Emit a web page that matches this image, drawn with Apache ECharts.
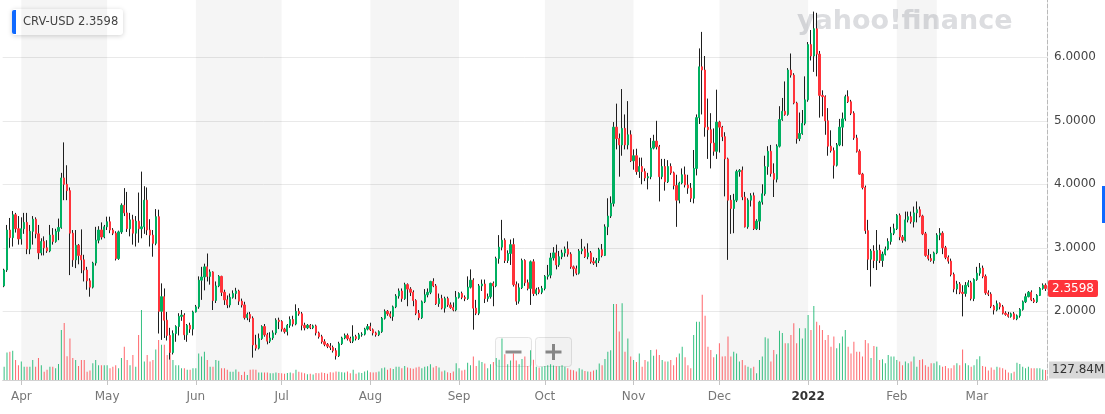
<!DOCTYPE html>
<html><head><meta charset="utf-8">
<script src="https://cdn.jsdelivr.net/npm/echarts/dist/echarts.min.js"></script>
<style>html,body{margin:0;padding:0;background:#fff}#c{width:1105px;height:414px}</style>
</head><body><div id="c"></div>
<script>
// ---- data (daily candles, 2021-03-26 .. 2022-03-25) ----
const START_DATE = [2021, 2, 26];
const openP = [
2.40,2.65,3.28,3.16,3.52,3.30,3.14,3.30,3.40,2.98,
3.26,3.45,3.22,2.92,3.10,3.00,2.95,3.20,3.10,3.26,
3.32,4.10,4.00,3.90,3.23,2.81,3.04,2.88,2.81,2.65,
2.48,2.38,2.76,3.12,3.28,3.17,3.33,3.41,3.28,3.23,
2.83,3.25,3.67,3.55,3.30,3.44,3.23,3.42,3.30,3.33,
3.75,3.28,3.20,3.07,3.49,2.00,2.23,1.86,1.62,1.35,
1.65,1.76,1.92,1.94,1.63,1.78,1.72,1.99,2.07,2.49,
2.54,2.70,2.55,2.62,2.17,2.40,2.55,2.30,2.18,2.10,
2.22,2.28,2.32,2.16,2.10,1.90,1.95,1.89,1.47,1.42,
1.57,1.76,1.63,1.53,1.58,1.66,1.86,1.84,1.72,1.68,
1.78,1.87,1.80,2.00,1.96,1.78,1.74,1.78,1.74,1.77,
1.66,1.60,1.52,1.48,1.45,1.43,1.38,1.30,1.49,1.58,
1.62,1.57,1.53,1.60,1.57,1.63,1.64,1.72,1.76,1.71,
1.66,1.63,1.68,1.89,2.00,1.96,1.92,2.07,2.24,2.32,
2.20,2.42,2.35,2.30,2.17,1.97,1.90,2.15,2.26,2.30,
2.47,2.40,2.12,2.20,2.05,2.20,2.10,2.06,2.02,2.22,
2.28,2.22,2.20,2.38,2.49,2.05,1.97,2.40,2.43,2.20,
2.23,2.44,2.40,2.83,3.01,3.12,2.80,2.91,3.05,2.42,
2.16,2.37,2.80,2.45,2.36,2.78,2.28,2.34,2.30,2.36,
2.55,2.57,2.84,2.92,2.73,2.86,2.92,2.98,2.90,2.70,
2.67,2.60,2.95,2.98,2.86,2.92,2.78,2.76,2.80,2.97,
2.88,3.33,3.50,3.70,4.90,4.72,4.62,4.88,4.62,4.78,
4.37,4.45,4.20,4.28,4.20,4.10,4.12,4.57,4.68,4.59,
4.12,4.28,4.04,4.28,4.18,3.98,3.75,4.02,4.15,3.99,
3.94,3.78,4.25,5.05,5.85,5.80,4.90,4.86,4.65,4.52,
4.98,4.90,4.75,4.40,3.75,3.62,3.75,4.20,4.22,3.80,
3.33,3.75,3.82,3.30,3.42,3.72,3.85,4.28,4.52,4.17,
4.08,4.60,5.02,5.15,5.10,5.80,5.72,5.28,4.72,4.80,
4.96,5.33,6.20,6.02,6.45,6.05,5.40,5.38,5.00,4.60,
4.53,4.30,4.62,4.90,5.03,5.38,5.30,5.12,4.73,4.52,
4.16,3.95,3.27,2.82,2.95,2.80,2.96,2.80,2.90,2.98,
3.10,3.23,3.30,3.51,3.17,3.12,3.44,3.49,3.41,3.55,
3.60,3.50,3.22,2.88,2.83,2.80,2.92,3.20,3.23,3.00,
2.85,2.79,2.58,2.35,2.43,2.30,2.28,2.41,2.45,2.20,
2.50,2.60,2.68,2.55,2.29,2.27,2.08,2.02,2.12,2.07,
1.97,1.95,1.92,1.96,1.88,1.93,2.03,2.15,2.23,2.30,
2.18,2.15,2.25,2.36,2.41];
const closeP = [
2.65,3.28,3.16,3.52,3.30,3.14,3.30,3.40,2.98,3.26,
3.45,3.22,2.92,3.10,3.00,2.95,3.20,3.10,3.26,3.32,
4.10,4.00,3.90,3.23,2.81,3.04,2.88,2.81,2.65,2.48,
2.38,2.76,3.12,3.28,3.17,3.33,3.41,3.28,3.23,2.83,
3.25,3.67,3.55,3.30,3.44,3.23,3.42,3.30,3.33,3.75,
3.28,3.20,3.07,3.49,2.00,2.23,1.86,1.62,1.35,1.65,
1.76,1.92,1.94,1.63,1.78,1.72,1.99,2.07,2.49,2.54,
2.70,2.55,2.62,2.17,2.40,2.55,2.30,2.18,2.10,2.22,
2.28,2.32,2.16,2.10,1.90,1.95,1.89,1.47,1.42,1.57,
1.76,1.63,1.53,1.58,1.66,1.86,1.84,1.72,1.68,1.78,
1.87,1.80,2.00,1.96,1.78,1.74,1.78,1.74,1.77,1.66,
1.60,1.52,1.48,1.45,1.43,1.38,1.30,1.49,1.58,1.62,
1.57,1.53,1.60,1.57,1.63,1.64,1.72,1.76,1.71,1.66,
1.63,1.68,1.89,2.00,1.96,1.92,2.07,2.24,2.32,2.20,
2.42,2.35,2.30,2.17,1.97,1.90,2.15,2.26,2.30,2.47,
2.40,2.12,2.20,2.05,2.20,2.10,2.06,2.02,2.22,2.28,
2.22,2.20,2.38,2.49,2.05,1.97,2.40,2.43,2.20,2.23,
2.44,2.40,2.83,3.01,3.12,2.80,2.91,3.05,2.42,2.16,
2.37,2.80,2.45,2.36,2.78,2.28,2.34,2.30,2.36,2.55,
2.57,2.84,2.92,2.73,2.86,2.92,2.98,2.90,2.70,2.67,
2.60,2.95,2.98,2.86,2.92,2.78,2.76,2.80,2.97,2.88,
3.33,3.50,3.70,4.90,4.72,4.62,4.88,4.62,4.78,4.37,
4.45,4.20,4.28,4.20,4.10,4.12,4.57,4.68,4.59,4.12,
4.28,4.04,4.28,4.18,3.98,3.75,4.02,4.15,3.99,3.94,
3.78,4.25,5.05,5.85,5.80,4.90,4.86,4.65,4.52,4.98,
4.90,4.75,4.40,3.75,3.62,3.75,4.20,4.22,3.80,3.33,
3.75,3.82,3.30,3.42,3.72,3.85,4.28,4.52,4.17,4.08,
4.60,5.02,5.15,5.10,5.80,5.72,5.28,4.72,4.80,4.96,
5.33,6.20,6.02,6.45,6.05,5.40,5.38,5.00,4.60,4.53,
4.30,4.62,4.90,5.03,5.38,5.30,5.12,4.73,4.52,4.16,
3.95,3.27,2.82,2.95,2.80,2.96,2.80,2.90,2.98,3.10,
3.23,3.30,3.51,3.17,3.12,3.44,3.49,3.41,3.55,3.60,
3.50,3.22,2.88,2.83,2.80,2.92,3.20,3.23,3.00,2.85,
2.79,2.58,2.35,2.43,2.30,2.28,2.41,2.45,2.20,2.50,
2.60,2.68,2.55,2.29,2.27,2.08,2.02,2.12,2.07,1.97,
1.95,1.92,1.96,1.88,1.93,2.03,2.15,2.23,2.30,2.18,
2.15,2.25,2.36,2.41,2.3598];
const lowP = [
2.38,2.62,3.00,3.02,3.24,3.05,3.05,3.22,2.90,2.90,
3.05,3.15,2.82,2.88,2.88,2.92,2.93,3.05,3.08,3.12,
3.30,3.75,3.75,2.57,2.70,2.68,2.74,2.60,2.47,2.34,
2.23,2.36,2.72,3.07,3.13,3.15,3.28,3.23,3.20,2.80,
2.81,3.22,3.50,3.25,3.18,3.05,3.02,3.08,3.15,3.22,
3.20,3.02,2.86,3.04,1.65,1.55,1.58,1.54,1.24,1.32,
1.52,1.62,1.85,1.55,1.52,1.66,1.62,1.98,2.04,2.18,
2.33,2.47,2.42,2.02,2.13,2.38,2.24,2.10,2.05,2.06,
2.20,2.19,2.10,2.06,1.87,1.86,1.83,1.27,1.38,1.40,
1.55,1.60,1.48,1.50,1.55,1.63,1.72,1.68,1.65,1.62,
1.74,1.76,1.78,1.93,1.70,1.70,1.72,1.72,1.72,1.62,
1.57,1.49,1.45,1.42,1.39,1.35,1.24,1.28,1.47,1.56,
1.54,1.50,1.50,1.54,1.55,1.60,1.62,1.70,1.69,1.62,
1.60,1.61,1.66,1.87,1.93,1.89,1.85,2.05,2.20,2.15,
2.18,2.08,2.24,2.08,1.94,1.86,1.88,2.13,2.22,2.27,
2.38,2.10,2.07,2.03,1.98,2.07,2.04,2.00,2.00,2.20,
2.19,2.16,2.18,2.36,1.71,1.94,1.94,2.32,2.13,2.15,
2.20,2.08,2.38,2.75,2.96,2.76,2.76,2.73,2.39,2.10,
2.12,2.35,2.40,2.33,2.10,2.24,2.25,2.27,2.27,2.33,
2.50,2.52,2.80,2.66,2.70,2.82,2.86,2.86,2.67,2.55,
2.57,2.58,2.90,2.84,2.82,2.75,2.73,2.70,2.76,2.85,
2.87,3.20,3.47,3.65,4.55,4.12,4.45,4.55,4.55,4.35,
4.23,4.15,4.10,4.00,4.05,3.92,4.08,4.55,4.55,3.73,
4.08,3.90,4.02,4.15,3.92,3.33,3.70,4.00,3.95,3.85,
3.72,3.70,4.14,4.95,5.10,4.75,4.40,4.25,4.45,4.40,
4.50,4.68,3.81,2.81,3.22,3.23,3.72,4.12,3.75,3.32,
3.30,3.65,3.28,3.28,3.28,3.68,3.82,4.15,4.12,3.80,
4.03,4.58,5.00,5.08,5.08,5.68,5.26,4.64,4.68,4.78,
4.93,5.30,5.95,5.77,5.70,5.05,5.07,4.78,4.45,4.50,
4.09,4.28,4.60,4.60,5.00,5.28,5.09,4.70,4.50,4.15,
3.92,3.22,2.65,2.39,2.68,2.65,2.76,2.70,2.88,2.96,
3.05,3.20,3.28,3.12,3.08,3.10,3.40,3.38,3.32,3.40,
3.48,3.20,2.86,2.80,2.78,2.75,2.90,3.12,2.90,2.82,
2.75,2.55,2.30,2.27,2.27,1.92,2.23,2.38,2.17,2.16,
2.48,2.56,2.52,2.26,2.24,2.05,1.95,2.00,2.03,1.95,
1.93,1.90,1.90,1.87,1.86,1.90,2.01,2.13,2.22,2.16,
2.13,2.13,2.24,2.34,2.32];
const highP = [
2.67,3.36,3.47,3.58,3.55,3.50,3.48,3.55,3.55,3.36,
3.50,3.48,3.36,3.15,3.18,3.12,3.36,3.31,3.30,3.46,
4.18,4.66,4.30,3.95,3.28,3.28,3.06,3.29,2.89,2.70,
2.52,2.78,3.33,3.34,3.40,3.36,3.49,3.49,3.31,3.26,
3.27,3.70,3.94,3.88,3.55,3.52,3.50,3.87,4.20,3.97,
3.95,3.45,3.28,3.61,3.60,2.44,2.36,1.99,1.74,1.70,
1.78,1.97,2.02,1.97,1.80,1.82,2.01,2.10,2.55,2.70,
2.75,2.91,2.66,2.63,2.47,2.57,2.56,2.34,2.25,2.28,
2.33,2.37,2.34,2.20,2.15,1.98,1.99,1.92,1.63,1.65,
1.78,1.80,1.66,1.67,1.70,1.89,1.90,1.86,1.74,1.80,
1.92,1.93,2.11,2.05,1.99,1.82,1.80,1.80,1.79,1.79,
1.68,1.63,1.56,1.50,1.50,1.46,1.42,1.52,1.60,1.65,
1.65,1.60,1.78,1.63,1.66,1.67,1.74,1.80,1.82,1.73,
1.68,1.70,1.91,2.03,2.02,2.00,2.09,2.27,2.36,2.36,
2.45,2.44,2.38,2.33,2.19,2.02,2.17,2.35,2.36,2.48,
2.52,2.43,2.28,2.26,2.23,2.23,2.14,2.14,2.32,2.30,
2.31,2.25,2.55,2.66,2.52,2.18,2.43,2.50,2.50,2.28,
2.45,2.47,2.86,3.20,3.44,3.15,2.96,3.13,3.15,2.47,
2.44,2.83,2.82,2.50,2.80,2.82,2.37,2.38,2.40,2.57,
2.73,2.92,3.01,3.05,2.95,2.97,3.02,3.10,2.93,2.72,
2.72,2.98,3.14,3.02,3.07,2.95,2.85,2.84,3.00,3.06,
3.37,3.78,3.81,4.98,5.27,4.80,5.50,5.10,5.31,4.85,
4.55,4.56,4.42,4.42,4.25,4.18,4.73,4.78,5.00,4.62,
4.40,4.40,4.38,4.33,4.20,4.15,4.04,4.25,4.28,4.15,
4.02,4.54,5.10,6.14,6.40,6.02,5.35,5.12,4.88,5.49,
5.00,4.92,4.82,4.42,3.83,3.85,4.23,4.24,4.28,3.88,
3.78,3.86,3.87,3.45,3.74,4.00,4.45,4.60,4.62,4.33,
4.63,5.23,5.36,5.62,5.83,6.06,5.75,5.30,5.13,5.17,
5.70,6.24,6.43,6.72,6.70,6.10,5.48,5.40,5.20,4.85,
4.58,4.65,5.03,5.13,5.41,5.48,5.33,5.15,4.78,4.55,
4.18,3.98,3.44,2.98,3.04,3.28,3.05,2.94,3.02,3.15,
3.33,3.38,3.53,3.54,3.20,3.57,3.57,3.57,3.65,3.73,
3.65,3.52,3.25,2.98,2.90,2.94,3.23,3.31,3.26,3.03,
2.88,2.83,2.61,2.48,2.46,2.41,2.46,2.49,2.48,2.52,
2.70,2.76,2.72,2.58,2.33,2.30,2.10,2.17,2.14,2.10,
2.00,1.99,1.98,1.99,1.95,2.05,2.17,2.28,2.32,2.33,
2.21,2.27,2.38,2.44,2.44];
const volumeM = [
170,350,360,375,255,190,235,170,170,170,
255,170,280,190,105,130,170,170,150,205,
640,730,305,530,280,255,180,255,255,105,
120,215,255,190,190,190,190,150,170,190,
150,280,425,255,190,320,170,575,895,235,
320,235,255,390,510,450,450,320,340,255,
190,190,150,150,130,130,150,150,340,300,
360,255,170,170,255,245,150,150,130,105,
105,135,105,65,105,65,130,135,130,95,
95,95,95,85,85,95,90,85,80,90,
95,85,130,105,95,85,75,80,70,90,
85,95,90,80,100,95,110,105,100,95,
110,85,130,80,95,90,110,120,100,95,
100,110,150,160,130,150,140,170,170,150,
180,160,150,145,160,170,150,170,175,200,
160,180,160,110,120,100,90,110,215,150,
120,130,220,190,300,180,250,230,210,150,
200,230,280,260,530,330,200,250,340,250,
200,270,300,180,380,260,170,160,170,180,
190,200,185,175,175,190,170,150,130,125,
110,150,135,115,110,105,120,130,210,190,
270,360,380,970,970,620,980,360,530,300,
255,230,340,170,255,235,385,310,390,320,
255,235,235,255,190,290,340,425,290,190,
150,575,745,745,1090,820,425,385,290,330,
470,300,305,555,300,360,340,235,255,190,
170,150,170,85,255,300,545,530,235,385,
330,630,600,470,470,575,725,470,660,530,
660,830,640,945,745,700,640,510,575,425,
555,405,470,555,640,425,340,490,360,360,
300,510,470,280,435,425,255,265,215,320,
300,300,255,235,190,235,215,235,300,170,
255,265,190,170,215,215,235,190,170,180,
150,150,190,215,190,390,215,190,170,190,
265,305,180,170,120,160,130,170,160,150,
130,95,85,105,220,205,170,150,170,150,
150,150,150,135,127.84];
const monthNames = ['Jan','Feb','Mar','Apr','May','Jun','Jul','Aug','Sep','Oct','Nov','Dec'];
const shadedMonths = [['2021-04-01','2021-05-01'],['2021-06-01','2021-07-01'],['2021-08-01','2021-09-01'],
  ['2021-10-01','2021-11-01'],['2021-12-01','2022-01-01'],['2022-02-01','2022-03-01']];
const priceTicks = {min: 2, max: 6, step: 1};
const SYMBOL = 'CRV-USD';
const LAST_PRICE = 2.3598;
const LAST_VOLUME_M = 127.84;

// ---- build ----
const UP = '#00b061', DOWN = '#ff333a', WICK = '#1e1e1e';
const dates = [];
const t0 = Date.UTC(START_DATE[0], START_DATE[1], START_DATE[2]);
for (let i = 0; i < closeP.length; i++) dates.push(new Date(t0 + i * 86400000).toISOString().slice(0, 10));
const wickData = dates.map((_, i) => [openP[i], closeP[i], lowP[i], highP[i]]);
const bodyData = dates.map((_, i) => [openP[i], closeP[i], Math.min(openP[i], closeP[i]), Math.max(openP[i], closeP[i])]);
const volData = volumeM.map((v, i) => ({value: v, itemStyle: {color: closeP[i] >= openP[i] ? 'rgba(0,176,97,0.8)' : 'rgba(255,51,58,0.75)'}}));
const monthStart = (i, v) => v.slice(8) === '01';
const FONT = '"DejaVu Sans", "Liberation Sans", Arial, sans-serif';
const GL = 2.7, GR = 58;

const chart = echarts.init(document.getElementById('c'));
chart.setOption({
  animation: false,
  backgroundColor: '#ffffff',
  textStyle: {fontFamily: FONT},
  grid: [
    {left: GL, right: GR, top: 57.3, height: 254, containLabel: false, outerBoundsMode: 'none'},
    {left: GL, right: GR, top: 0, height: 380, containLabel: false, outerBoundsMode: 'none'}
  ],
  xAxis: [
    {type: 'category', gridIndex: 0, data: dates, show: false, boundaryGap: true},
    {type: 'category', gridIndex: 1, data: dates, boundaryGap: true,
      axisLine: {show: true, lineStyle: {color: '#d2d2d2', width: 1}},
      axisTick: {show: true, interval: monthStart, alignWithLabel: true, length: 5, lineStyle: {color: '#c4c4c4'}},
      axisLabel: {interval: monthStart, margin: 11, color: '#777', fontSize: 12, fontFamily: FONT,
        formatter: v => { const m = +v.slice(5, 7); return m === 1 ? '{yr|' + v.slice(0, 4) + '}' : monthNames[m - 1]; },
        rich: {yr: {fontWeight: 'bold', color: '#333', fontSize: 12, fontFamily: FONT}}},
      splitLine: {show: false}}
  ],
  yAxis: [
    {type: 'value', gridIndex: 0, position: 'right', min: priceTicks.min, max: priceTicks.max, interval: priceTicks.step,
      axisLine: {show: false}, axisTick: {show: false},
      splitLine: {show: true, lineStyle: {color: '#e9e9e9', width: 1}},
      axisLabel: {formatter: v => v.toFixed(4), color: '#454545', fontSize: 12, fontFamily: FONT, margin: 7}},
    {type: 'value', gridIndex: 1, position: 'right', min: 0, max: 4857,
      axisLine: {show: true, lineStyle: {color: '#b9b9b9', type: 'dashed', width: 1}},
      axisTick: {show: false}, axisLabel: {show: false}, splitLine: {show: false}}
  ],
  series: [
    {type: 'bar', name: 'Volume', xAxisIndex: 1, yAxisIndex: 1, data: volData, barWidth: 1, silent: true, clip: false,
      markArea: {silent: true, itemStyle: {color: 'rgba(0,0,0,0.04)'},
        data: shadedMonths.map(p => [{xAxis: p[0]}, {xAxis: p[1]}])},
      markLine: {silent: true, symbol: ['none', 'none'], lineStyle: {color: 'rgba(0,0,0,0)', width: 1, type: 'solid'},
        label: {show: true, position: 'end', distance: 2, formatter: LAST_VOLUME_M.toFixed(2) + 'M',
          backgroundColor: '#d8d8d8', color: '#333', fontSize: 12, fontFamily: FONT, padding: [3, 6, 2, 3]},
        data: [{yAxis: LAST_VOLUME_M}]}},
    {type: 'candlestick', name: 'wick', xAxisIndex: 0, yAxisIndex: 0, data: wickData, barWidth: 1, clip: false, silent: true,
      itemStyle: {color: WICK, color0: WICK, borderColor: WICK, borderColor0: WICK, borderWidth: 1}},
    {type: 'candlestick', name: SYMBOL, xAxisIndex: 0, yAxisIndex: 0, data: bodyData, barWidth: 1.7, clip: false, silent: true,
      itemStyle: {color: UP, color0: DOWN, borderColor: UP, borderColor0: DOWN, borderWidth: 1},
      markLine: {silent: true, symbol: ['none', 'none'], lineStyle: {color: 'rgba(0,0,0,0)', width: 1, type: 'solid'},
        label: {show: true, position: 'end', distance: 1, formatter: LAST_PRICE.toFixed(4),
          backgroundColor: DOWN, color: '#fff', fontSize: 12, fontFamily: FONT, padding: [3, 4, 2, 4], borderRadius: 2},
        data: [{yAxis: LAST_PRICE}]}}
  ],
  graphic: [
    {type: 'text', z: -10, left: 797, top: 8, silent: true,
      style: {text: 'yahoo!finance', font: 'bold 27px "DejaVu Sans"', fill: '#dcdde0'}},
    {type: 'group', left: 12, top: 9, z: 50, children: [
      {type: 'rect', shape: {x: 0, y: 0, width: 111, height: 26, r: 3},
        style: {fill: '#fff', shadowBlur: 5, shadowColor: 'rgba(0,0,0,0.18)', shadowOffsetY: 1}},
      {type: 'rect', shape: {x: 0, y: 1, width: 4, height: 24, r: [2, 0, 0, 2]}, style: {fill: '#0f69ff'}},
      {type: 'text', x: 11, y: 13, style: {text: SYMBOL, font: '11.5px "DejaVu Sans"', fill: '#464646', verticalAlign: 'middle'}},
      {type: 'text', x: 66, y: 13, style: {text: LAST_PRICE.toFixed(4), font: '11.5px "DejaVu Sans"', fill: '#464646', verticalAlign: 'middle'}}
    ]},
    {type: 'group', left: 495, top: 337, z: 60, children: [
      {type: 'rect', shape: {x: 0, y: 0, width: 36, height: 29, r: 3}, style: {fill: 'rgba(250,250,250,0.75)', stroke: 'rgba(215,215,215,0.7)'}},
      {type: 'rect', shape: {x: 40, y: 0, width: 36, height: 29, r: 3}, style: {fill: 'rgba(250,250,250,0.75)', stroke: 'rgba(215,215,215,0.7)'}},
      {type: 'rect', shape: {x: 10, y: 13, width: 16, height: 3}, style: {fill: '#8c8c8c'}},
      {type: 'rect', shape: {x: 50, y: 13, width: 16, height: 3}, style: {fill: '#8c8c8c'}},
      {type: 'rect', shape: {x: 56.5, y: 6.5, width: 3, height: 16}, style: {fill: '#8c8c8c'}}
    ]},
    {type: 'rect', left: 1102, top: 186, z: 60, shape: {width: 3, height: 37}, style: {fill: '#0f69ff'}}
  ]
});
</script>
</body></html>
